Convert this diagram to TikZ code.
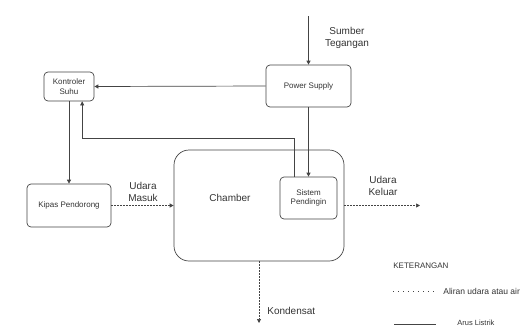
\documentclass[tikz,border=0pt]{standalone}
\usepackage{fontspec}
\setmainfont{Liberation Sans}
\usepackage{tikz}
\usetikzlibrary{arrows.meta,calc}
\definecolor{linegray}{HTML}{444444}
\definecolor{textgray}{HTML}{333333}
\tikzset{
	block diagram/.style={
		x=1pt, y=-1pt,
		line width=.7pt,
		draw=linegray,
		text=textgray,
		every node/.style={inner sep=1pt, text=textgray},
		>={Triangle[width=4pt,length=4pt]},
		},
	blok/.style={draw=linegray, rounded corners=4pt, align=center,
		font=\fontsize{8}{9.5}\selectfont},
	lbl/.style={align=center, font=\fontsize{10}{12}\selectfont},
	arr/.style={draw=linegray, ->},
	aliran/.style={draw=linegray, ->, dash pattern=on 1.5pt off 1.5pt},
}

\begin{document}
\begin{tikzpicture}[block diagram]
   \useasboundingbox (0,0) rectangle (527,333);
   \node[blok, minimum width=50pt, minimum height=29pt] (ks) at (69,86.5) {Kontroler\\Suhu};
   \node[blok, minimum width=85pt, minimum height=42pt] (ps) at (308.5,86) {Power Supply};
   \node[blok, minimum width=84pt, minimum height=43pt] (kp) at (69,205.5) {Kipas Pendorong};
   \node[blok, rounded corners=15pt, minimum width=170pt, minimum height=111pt] (ch) at (259,205.5) {};
   \node[lbl] (chlbl) at (230,198) {Chamber};
   \node[blok, minimum width=57pt, minimum height=42pt] (sp) at (308.5,198) {Sistem\\Pendingin};
   % ujung bebas
   \coordinate (src) at (308.5,16);
   \coordinate (keluar) at (420,205.5);
   \coordinate (kond) at (259,323);
   \coordinate (spout) at ($(sp.north west)!.25!(sp.north east)$);
   \coordinate (ksin) at ($(ks.south west)!.76!(ks.south east)$);
   \draw[arr] (src) -- (ps.north);
   \draw[arr] (ps.west) -- (ks.east);
   \draw[arr] (ps.south) -- (sp.north);
   \draw[arr] (spout) -- ++(0,-38) -| (ksin);
   \draw[arr] (ks.south) -- (kp.north);
   \draw[aliran] (kp.east) -- (ch.west);
   \draw[aliran] (ch.east) -- (keluar);
   \draw[aliran] (ch.south) -- (kond);
   \node[lbl] (sumber) at (347,38) {Sumber\\Tegangan};
   \node[lbl] (masuk) at (143,192) {Udara\\Masuk};
   \node[lbl] (klr) at (383,186) {Udara\\Keluar};
   \node[lbl, anchor=west] (kdl) at (266,311) {Kondensat};
   % keterangan
   \node[anchor=west, font=\fontsize{8}{9.5}\selectfont] (ket) at (392,266) {KETERANGAN};
   \coordinate (l1a) at (393,291); \coordinate (l1b) at (435,291);
   \coordinate (l2a) at (394,324); \coordinate (l2b) at (436,324);
   \draw[draw=linegray, dash pattern=on 1pt off 4pt] (l1a) -- (l1b);
   \node[anchor=west, font=\fontsize{8.5}{10}\selectfont] (ket1) at (442,291) {Aliran udara atau air};
   \draw[draw=linegray] (l2a) -- (l2b);
   \node[anchor=west, font=\fontsize{7.5}{9}\selectfont] (ket2) at (456,323) {Arus Listrik};
\end{tikzpicture}
\end{document}
